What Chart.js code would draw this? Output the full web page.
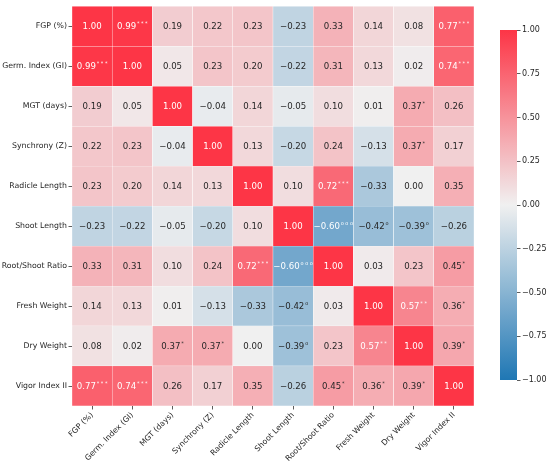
<!DOCTYPE html>
<html>
<head>
<meta charset="utf-8">
<script src="https://cdn.jsdelivr.net/npm/chart.js@4.4.1/dist/chart.umd.min.js"></script>
<style>
  html, body { margin: 0; padding: 0; background: #fff; }
  #wrap { position: relative; width: 550px; height: 463px; }
  #heat { position: absolute; left: 0; top: 0; }
  #bar { position: absolute; left: 480px; top: 0; }
</style>
</head>
<body>
<div id="wrap">
  <canvas id="heat" width="550" height="463"></canvas>
  <canvas id="bar" width="70" height="463"></canvas>
</div>
<script>
const labels = ['FGP (%)', 'Germ. Index (GI)', 'MGT (days)', 'Synchrony (Z)', 'Radicle Length',
  'Shoot Length', 'Root/Shoot Ratio', 'Fresh Weight', 'Dry Weight', 'Vigor Index II']

// correlation matrix, one row per trait
const corr = [
  [ 1.00,  0.99,  0.19,  0.22,  0.23, -0.23,  0.33,  0.14,  0.08,  0.77],
  [ 0.99,  1.00,  0.05,  0.23,  0.20, -0.22,  0.31,  0.13,  0.02,  0.74],
  [ 0.19,  0.05,  1.00, -0.04,  0.14, -0.05,  0.10,  0.01,  0.37,  0.26],
  [ 0.22,  0.23, -0.04,  1.00,  0.13, -0.20,  0.24, -0.13,  0.37,  0.17],
  [ 0.23,  0.20,  0.14,  0.13,  1.00,  0.10,  0.72, -0.33,  0.00,  0.35],
  [-0.23, -0.22, -0.05, -0.20,  0.10,  1.00, -0.60, -0.42, -0.39, -0.26],
  [ 0.33,  0.31,  0.10,  0.24,  0.72, -0.60,  1.00,  0.03,  0.23,  0.45],
  [ 0.14,  0.13,  0.01, -0.13, -0.33, -0.42,  0.03,  1.00,  0.57,  0.36],
  [ 0.08,  0.02,  0.37,  0.37,  0.00, -0.39,  0.23,  0.57,  1.00,  0.39],
  [ 0.77,  0.74,  0.26,  0.17,  0.35, -0.26,  0.45,  0.36,  0.39,  1.00]
]

// significance marks (superscript)
const sig = [
  ['', '***', '', '', '', '', '', '', '', '***'],
  ['***', '', '', '', '', '', '', '', '', '***'],
  ['', '', '', '', '', '', '', '', '*', ''],
  ['', '', '', '', '', '', '', '', '*', ''],
  ['', '', '', '', '', '', '***', '', '', ''],
  ['', '', '', '', '', '', 'ooo', 'o', 'o', ''],
  ['', '', '', '', '***', 'ooo', '', '', '', '*'],
  ['', '', '', '', '', 'o', '', '', '**', '*'],
  ['', '', '*', '*', '', 'o', '', '**', '', '*'],
  ['***', '***', '', '', '', '', '*', '*', '*', '']
]

const cbTicks = [-1, -0.75, -0.5, -0.25, 0, 0.25, 0.5, 0.75, 1]

const negColor = [31, 119, 180]
const midColor = [240, 240, 240]
const posColor = [253, 53, 70]

function mix(a, b, t) {
  return a.map((v, k) => Math.round(v + (b[k] - v) * t))
}
function cmapRgb(v) {
  return v >= 0 ? mix(midColor, posColor, v) : mix(midColor, negColor, -v)
}
function cmap(v) {
  const c = cmapRgb(v)
  return 'rgb(' + c.join(',') + ')'
}
function luminance(c) {
  const lin = c.map(x => {
    x = x / 255
    return x <= 0.03928 ? x / 12.92 : Math.pow((x + 0.055) / 1.055, 2.4)
  })
  return 0.2126 * lin[0] + 0.7152 * lin[1] + 0.0722 * lin[2]
}
function fmt(v) {
  return (v < 0 ? '\u2212' : '') + Math.abs(v).toFixed(2)
}

Chart.defaults.font.family = 'DejaVu Sans'
Chart.defaults.font.size = 7.8
Chart.defaults.color = '#262626'

// writes value + superscript in every cell
const cellText = {
  id: 'cellText',
  afterDatasetsDraw(chart) {
    const ctx = chart.ctx
    ctx.save()
    ctx.textBaseline = 'middle'
    ctx.textAlign = 'left'
    corr.forEach((row, i) => {
      const meta = chart.getDatasetMeta(i)
      row.forEach((v, j) => {
        const el = meta.data[j]
        const cx = el.x
        const cy = (el.y + el.base) / 2
        const main = fmt(v)
        const sup = sig[i][j].split('').join(' ')
        ctx.font = '8.6px "DejaVu Sans"'
        const w1 = ctx.measureText(main).width
        ctx.font = '5px "DejaVu Sans"'
        const w2 = sup ? ctx.measureText(sup).width + 0.8 : 0
        const x0 = cx - (w1 + w2) / 2
        ctx.fillStyle = luminance(cmapRgb(v)) > 0.408 ? '#262626' : '#ffffff'
        ctx.font = '8.6px "DejaVu Sans"'
        ctx.fillText(main, x0, cy + 0.5)
        if (sup) {
          ctx.font = '5px "DejaVu Sans"'
          ctx.fillText(sup, x0 + w1 + 0.8, cy - 2.5)
        }
      })
    })
    ctx.restore()
  }
}

new Chart(document.getElementById('heat'), {
  type: 'bar',
  data: {
    labels: labels,
    datasets: corr.map(row => ({
      data: row.map(() => 1),
      backgroundColor: row.map(cmap),
      borderColor: 'rgba(255,255,255,0.9)',
      borderWidth: 0.5,
      barPercentage: 1,
      categoryPercentage: 1
    }))
  },
  options: {
    responsive: false,
    animation: false,
    layout: { padding: { left: 0, top: 4, right: 76, bottom: 0 } },
    plugins: { legend: { display: false }, tooltip: { enabled: false } },
    scales: {
      x: {
        stacked: true,
        grid: { offset: false, drawOnChartArea: false, tickLength: 3.5, tickColor: '#333', tickWidth: 0.8 },
        border: { display: false },
        ticks: { minRotation: 45, maxRotation: 45, autoSkip: false, padding: 1 },
        afterFit(scale) { scale.height = 57 }
      },
      y: {
        stacked: true,
        min: 0,
        max: 10,
        reverse: true,
        grid: { drawOnChartArea: false, tickLength: 3.5, tickColor: '#333', tickWidth: 0.8 },
        border: { display: false },
        afterBuildTicks(scale) {
          scale.ticks = labels.map((l, i) => ({ value: i + 0.5 }))
        },
        ticks: {
          autoSkip: false,
          padding: 1.5,
          callback: (value, index) => labels[index]
        },
        afterFit(scale) { scale.width = 72 }
      }
    }
  },
  plugins: [cellText]
})

// colorbar
new Chart(document.getElementById('bar'), {
  type: 'bar',
  data: {
    labels: ['cb'],
    datasets: [{
      data: [[-1, 1]],
      barPercentage: 1,
      categoryPercentage: 1,
      backgroundColor(c) {
        const area = c.chart.chartArea
        if (!area) return cmap(0)
        const g = c.chart.ctx.createLinearGradient(0, area.bottom, 0, area.top)
        for (let k = 0; k <= 40; k++) {
          const v = -1 + k / 20
          g.addColorStop(k / 40, cmap(v))
        }
        return g
      }
    }]
  },
  options: {
    responsive: false,
    animation: false,
    layout: { padding: { left: 20, top: 30, right: 0, bottom: 83 } },
    plugins: { legend: { display: false }, tooltip: { enabled: false } },
    scales: {
      x: { display: false },
      y: {
        position: 'right',
        min: -1,
        max: 1,
        grid: { drawOnChartArea: false, tickLength: 3.5, tickColor: '#333', tickWidth: 0.8 },
        border: { display: false },
        afterBuildTicks(scale) {
          scale.ticks = cbTicks.map(v => ({ value: v }))
        },
        ticks: {
          padding: 1.5,
          font: { size: 8 },
          callback: v => fmt(v)
        },
        afterFit(scale) { scale.width = 33 }
      }
    }
  }
})
</script>
</body>
</html>
